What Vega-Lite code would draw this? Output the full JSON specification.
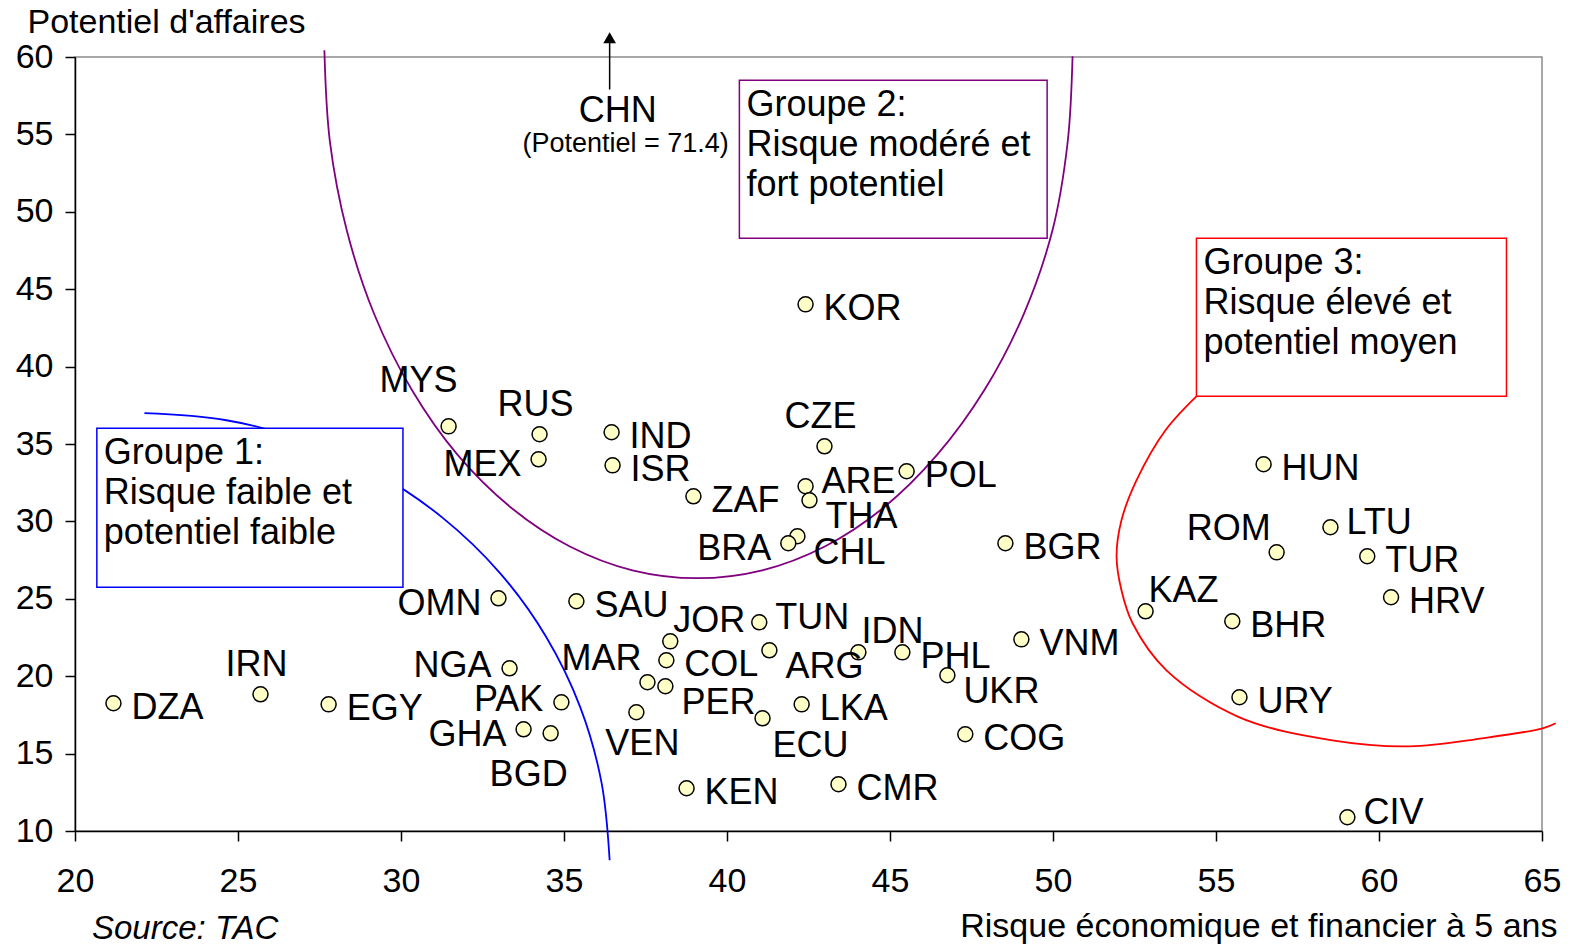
{
  "$schema": "https://vega.github.io/schema/vega-lite/v6.json",
  "width": 1467,
  "height": 774,
  "autosize": {"type": "none"},
  "padding": {"left": 75, "top": 57, "right": 29, "bottom": 114},
  "background": "white",
  "config": {
    "font": "Liberation Sans",
    "view": {"stroke": "#8c8c8c", "strokeWidth": 1.5},
    "axis": {
      "grid": false, "domainColor": "black", "tickColor": "black",
      "labelColor": "black", "titleColor": "black",
      "labelFont": "Liberation Sans", "titleFont": "Liberation Sans",
      "labelFontSize": 34, "titleFontSize": 34, "titleFontWeight": "normal",
      "tickSize": 10, "domainWidth": 1.5, "tickWidth": 1.5
    },
    "text": {"font": "Liberation Sans", "fontSize": 36, "color": "black"}
  },
  "title": {
    "text": "Source: TAC", "orient": "bottom", "anchor": "start", "frame": "group",
    "offset": -30, "dx": 17, "fontSize": 33, "fontStyle": "italic",
    "fontWeight": "normal", "color": "black", "font": "Liberation Sans"
  },
  "datasets": {
    "pays": [
      {"pays": "DZA", "risque": 21.18, "potentiel": 18.25, "pos": "r"},
      {"pays": "IRN", "risque": 25.69, "potentiel": 18.83, "pos": "t"},
      {"pays": "EGY", "risque": 27.78, "potentiel": 18.18, "pos": "r"},
      {"pays": "MYS", "risque": 31.46, "potentiel": 36.14, "pos": "tt"},
      {"pays": "RUS", "risque": 34.25, "potentiel": 35.63, "pos": "t"},
      {"pays": "MEX", "risque": 34.22, "potentiel": 34.01, "pos": "l"},
      {"pays": "OMN", "risque": 32.99, "potentiel": 25.03, "pos": "l"},
      {"pays": "NGA", "risque": 33.33, "potentiel": 20.51, "pos": "lu"},
      {"pays": "PAK", "risque": 34.92, "potentiel": 18.31, "pos": "lu"},
      {"pays": "GHA", "risque": 33.76, "potentiel": 16.57, "pos": "l"},
      {"pays": "BGD", "risque": 34.59, "potentiel": 16.31, "pos": "bl"},
      {"pays": "SAU", "risque": 35.38, "potentiel": 24.84, "pos": "r"},
      {"pays": "IND", "risque": 36.46, "potentiel": 35.76, "pos": "r"},
      {"pays": "ISR", "risque": 36.49, "potentiel": 33.62, "pos": "r"},
      {"pays": "ZAF", "risque": 38.97, "potentiel": 31.62, "pos": "r"},
      {"pays": "JOR", "risque": 38.26, "potentiel": 22.25, "pos": "tr"},
      {"pays": "COL", "risque": 38.14, "potentiel": 21.03, "pos": "r"},
      {"pays": "MAR", "risque": 37.56, "potentiel": 19.61, "pos": "tl"},
      {"pays": "PER", "risque": 38.11, "potentiel": 19.35, "pos": "rd"},
      {"pays": "VEN", "risque": 37.22, "potentiel": 17.67, "pos": "b"},
      {"pays": "TUN", "risque": 40.99, "potentiel": 23.48, "pos": "ru"},
      {"pays": "ARG", "risque": 41.30, "potentiel": 21.67, "pos": "rd"},
      {"pays": "IDN", "risque": 44.03, "potentiel": 21.54, "pos": "tr"},
      {"pays": "PHL", "risque": 45.38, "potentiel": 21.54, "pos": "r"},
      {"pays": "VNM", "risque": 49.03, "potentiel": 22.38, "pos": "r"},
      {"pays": "UKR", "risque": 46.76, "potentiel": 20.06, "pos": "rd"},
      {"pays": "COG", "risque": 47.31, "potentiel": 16.25, "pos": "r"},
      {"pays": "LKA", "risque": 42.29, "potentiel": 18.18, "pos": "r"},
      {"pays": "ECU", "risque": 41.09, "potentiel": 17.28, "pos": "rb"},
      {"pays": "KEN", "risque": 38.76, "potentiel": 12.76, "pos": "r"},
      {"pays": "CMR", "risque": 43.42, "potentiel": 13.02, "pos": "r"},
      {"pays": "KOR", "risque": 42.41, "potentiel": 44.02, "pos": "r"},
      {"pays": "CZE", "risque": 42.99, "potentiel": 34.85, "pos": "t"},
      {"pays": "ARE", "risque": 42.41, "potentiel": 32.27, "pos": "ru"},
      {"pays": "THA", "risque": 42.53, "potentiel": 31.36, "pos": "rd"},
      {"pays": "POL", "risque": 45.51, "potentiel": 33.24, "pos": "r"},
      {"pays": "CHL", "risque": 42.16, "potentiel": 29.04, "pos": "rd"},
      {"pays": "BRA", "risque": 41.88, "potentiel": 28.59, "pos": "l"},
      {"pays": "BGR", "risque": 48.54, "potentiel": 28.59, "pos": "r"},
      {"pays": "HUN", "risque": 56.46, "potentiel": 33.69, "pos": "r"},
      {"pays": "ROM", "risque": 56.86, "potentiel": 28.00, "pos": "tl"},
      {"pays": "LTU", "risque": 58.51, "potentiel": 29.62, "pos": "ru"},
      {"pays": "TUR", "risque": 59.64, "potentiel": 27.75, "pos": "r"},
      {"pays": "HRV", "risque": 60.37, "potentiel": 25.10, "pos": "r"},
      {"pays": "KAZ", "risque": 52.84, "potentiel": 24.19, "pos": "tr"},
      {"pays": "BHR", "risque": 55.50, "potentiel": 23.55, "pos": "r"},
      {"pays": "URY", "risque": 55.72, "potentiel": 18.64, "pos": "r"},
      {"pays": "CIV", "risque": 59.03, "potentiel": 10.89, "pos": "ru"}
    ],
    "chn": [
      {"pays": "CHN", "risque": 36.4, "potentiel": 71.4, "note": "(Potentiel = 71.4)"}
    ],
    "groupes": [
      {"groupe": "1", "risque": 20.67, "risque_fin": 30.06, "potentiel": 36.01, "potentiel_fin": 25.74, "texte": "Groupe 1:\nRisque faible et\npotentiel faible"},
      {"groupe": "2", "risque": 40.38, "risque_fin": 49.82, "potentiel": 58.49, "potentiel_fin": 48.29, "texte": "Groupe 2:\nRisque modéré et\nfort potentiel"},
      {"groupe": "3", "risque": 54.40, "risque_fin": 63.91, "potentiel": 48.29, "potentiel_fin": 38.08, "texte": "Groupe 3:\nRisque élevé et\npotentiel moyen"}
    ],
    "courbes": [
      {"groupe": "1", "ordre": 1, "risque": 22.13, "potentiel": 36.99},
      {"groupe": "1", "ordre": 2, "risque": 24.60, "potentiel": 36.55},
      {"groupe": "1", "ordre": 3, "risque": 27.00, "potentiel": 35.25},
      {"groupe": "1", "ordre": 4, "risque": 29.25, "potentiel": 33.12},
      {"groupe": "1", "ordre": 5, "risque": 31.28, "potentiel": 30.23},
      {"groupe": "1", "ordre": 6, "risque": 33.03, "potentiel": 26.68},
      {"groupe": "1", "ordre": 7, "risque": 34.45, "potentiel": 22.55},
      {"groupe": "1", "ordre": 8, "risque": 35.50, "potentiel": 17.99},
      {"groupe": "1", "ordre": 9, "risque": 36.15, "potentiel": 13.14},
      {"groupe": "1", "ordre": 10, "risque": 36.40, "potentiel": 8.11},
      {"groupe": "2", "ordre": 1, "risque": 27.65, "potentiel": 60.43},
      {"groupe": "2", "ordre": 2, "risque": 27.82, "potentiel": 54.51},
      {"groupe": "2", "ordre": 3, "risque": 28.34, "potentiel": 48.77},
      {"groupe": "2", "ordre": 4, "risque": 29.18, "potentiel": 43.38},
      {"groupe": "2", "ordre": 5, "risque": 30.33, "potentiel": 38.50},
      {"groupe": "2", "ordre": 6, "risque": 31.73, "potentiel": 34.31},
      {"groupe": "2", "ordre": 7, "risque": 33.37, "potentiel": 30.90},
      {"groupe": "2", "ordre": 8, "risque": 35.18, "potentiel": 28.38},
      {"groupe": "2", "ordre": 9, "risque": 37.10, "potentiel": 26.84},
      {"groupe": "2", "ordre": 10, "risque": 39.09, "potentiel": 26.33},
      {"groupe": "2", "ordre": 11, "risque": 41.08, "potentiel": 26.84},
      {"groupe": "2", "ordre": 12, "risque": 43.00, "potentiel": 28.38},
      {"groupe": "2", "ordre": 13, "risque": 44.81, "potentiel": 30.90},
      {"groupe": "2", "ordre": 14, "risque": 46.45, "potentiel": 34.31},
      {"groupe": "2", "ordre": 15, "risque": 47.90, "potentiel": 38.50},
      {"groupe": "2", "ordre": 16, "risque": 49.10, "potentiel": 43.38},
      {"groupe": "2", "ordre": 17, "risque": 49.98, "potentiel": 48.77},
      {"groupe": "2", "ordre": 18, "risque": 50.45, "potentiel": 54.51},
      {"groupe": "2", "ordre": 19, "risque": 50.60, "potentiel": 60.05},
      {"groupe": "3", "ordre": 1, "risque": 54.40, "potentiel": 38.08},
      {"groupe": "3", "ordre": 2, "risque": 53.45, "potentiel": 35.89},
      {"groupe": "3", "ordre": 3, "risque": 52.56, "potentiel": 32.65},
      {"groupe": "3", "ordre": 4, "risque": 52.10, "potentiel": 30.07},
      {"groupe": "3", "ordre": 5, "risque": 51.95, "potentiel": 27.75},
      {"groupe": "3", "ordre": 6, "risque": 52.10, "potentiel": 25.55},
      {"groupe": "3", "ordre": 7, "risque": 52.44, "potentiel": 23.42},
      {"groupe": "3", "ordre": 8, "risque": 53.48, "potentiel": 20.38},
      {"groupe": "3", "ordre": 9, "risque": 55.72, "potentiel": 17.34},
      {"groupe": "3", "ordre": 10, "risque": 58.57, "potentiel": 15.86},
      {"groupe": "3", "ordre": 11, "risque": 60.93, "potentiel": 15.47},
      {"groupe": "3", "ordre": 12, "risque": 63.17, "potentiel": 15.99},
      {"groupe": "3", "ordre": 13, "risque": 65.02, "potentiel": 16.63},
      {"groupe": "3", "ordre": 14, "risque": 65.42, "potentiel": 16.96}
    ]
  },
  "encoding": {
    "x": {
      "field": "risque", "type": "quantitative",
      "scale": {"domain": [20, 65], "nice": false, "zero": false},
      "axis": {
        "title": "Risque économique et financier à 5 ans",
        "values": [20, 25, 30, 35, 40, 45, 50, 55, 60, 65],
        "labelFlush": false, "labelOverlap": false, "labelPadding": 23,
        "titleAlign": "right", "titleX": 1482, "titleY": 95, "titleBaseline": "middle"
      }
    },
    "y": {
      "field": "potentiel", "type": "quantitative",
      "scale": {"domain": [10, 60], "nice": false, "zero": false},
      "axis": {
        "title": "Potentiel d'affaires",
        "values": [10, 15, 20, 25, 30, 35, 40, 45, 50, 55, 60],
        "labelPadding": 12, "labelOverlap": false,
        "titleAngle": 0, "titleAlign": "left", "titleX": -48, "titleY": -35, "titleBaseline": "middle"
      }
    }
  },
  "layer": [
    {
      "data": {"name": "courbes"},
      "mark": {"type": "line", "strokeWidth": 1.8, "interpolate": "catmull-rom", "clip": false},
      "encoding": {
        "detail": {"field": "groupe"},
        "order": {"field": "ordre", "type": "quantitative"},
        "color": {"field": "groupe", "type": "nominal", "scale": {"domain": ["1", "2", "3"], "range": ["#0000FF", "#800080", "#FF0000"]}, "legend": null}
      }
    },
    {
      "data": {"name": "groupes"},
      "mark": {"type": "rect", "fill": "white", "strokeWidth": 1.5},
      "encoding": {
        "x2": {"field": "risque_fin"},
        "y2": {"field": "potentiel_fin"},
        "stroke": {"field": "groupe", "type": "nominal", "scale": {"domain": ["1", "2", "3"], "range": ["#0000FF", "#800080", "#FF0000"]}, "legend": null}
      }
    },
    {
      "data": {"name": "groupes"},
      "mark": {"type": "text", "align": "left", "baseline": "top", "dx": 7, "dy": 8, "fontSize": 36, "lineHeight": 40, "lineBreak": "\n"},
      "encoding": {"text": {"field": "texte"}}
    },
    {
      "data": {"name": "chn"},
      "mark": {"type": "rule", "color": "black", "strokeWidth": 1.5, "clip": false},
      "encoding": {"y": {"datum": 57.9}, "y2": {"datum": 60.9}}
    },
    {
      "data": {"name": "chn"},
      "mark": {"type": "point", "shape": "triangle-up", "filled": true, "color": "black", "size": 160, "opacity": 1, "clip": false},
      "encoding": {"y": {"datum": 61.25}}
    },
    {
      "data": {"name": "chn"},
      "mark": {"type": "text", "align": "center", "baseline": "middle", "dx": 8, "fontSize": 36},
      "encoding": {"y": {"datum": 56.5}, "text": {"field": "pays"}}
    },
    {
      "data": {"name": "chn"},
      "mark": {"type": "text", "align": "center", "baseline": "middle", "dx": 16, "fontSize": 27},
      "encoding": {"y": {"datum": 54.35}, "text": {"field": "note"}}
    },
    {
      "data": {"name": "pays"},
      "mark": {"type": "circle", "size": 225, "fill": "#FFFFC8", "stroke": "black", "strokeWidth": 1.5, "opacity": 1}
    },
    {
      "data": {"name": "pays"},
      "transform": [{"filter": "datum.pos === 'r'"}],
      "mark": {"type": "text", "align": "left", "baseline": "middle", "dx": 18, "dy": 5},
      "encoding": {"text": {"field": "pays"}}
    },
    {
      "data": {"name": "pays"},
      "transform": [{"filter": "datum.pos === 'ru'"}],
      "mark": {"type": "text", "align": "left", "baseline": "middle", "dx": 16, "dy": -4},
      "encoding": {"text": {"field": "pays"}}
    },
    {
      "data": {"name": "pays"},
      "transform": [{"filter": "datum.pos === 'rd'"}],
      "mark": {"type": "text", "align": "left", "baseline": "middle", "dx": 16, "dy": 17},
      "encoding": {"text": {"field": "pays"}}
    },
    {
      "data": {"name": "pays"},
      "transform": [{"filter": "datum.pos === 'rb'"}],
      "mark": {"type": "text", "align": "left", "baseline": "middle", "dx": 10, "dy": 28},
      "encoding": {"text": {"field": "pays"}}
    },
    {
      "data": {"name": "pays"},
      "transform": [{"filter": "datum.pos === 'l'"}],
      "mark": {"type": "text", "align": "right", "baseline": "middle", "dx": -17, "dy": 6},
      "encoding": {"text": {"field": "pays"}}
    },
    {
      "data": {"name": "pays"},
      "transform": [{"filter": "datum.pos === 'lu'"}],
      "mark": {"type": "text", "align": "right", "baseline": "middle", "dx": -18, "dy": -2},
      "encoding": {"text": {"field": "pays"}}
    },
    {
      "data": {"name": "pays"},
      "transform": [{"filter": "datum.pos === 't'"}],
      "mark": {"type": "text", "align": "center", "baseline": "middle", "dx": -4, "dy": -29},
      "encoding": {"text": {"field": "pays"}}
    },
    {
      "data": {"name": "pays"},
      "transform": [{"filter": "datum.pos === 'tt'"}],
      "mark": {"type": "text", "align": "right", "baseline": "middle", "dx": 9, "dy": -45},
      "encoding": {"text": {"field": "pays"}}
    },
    {
      "data": {"name": "pays"},
      "transform": [{"filter": "datum.pos === 'tr'"}],
      "mark": {"type": "text", "align": "left", "baseline": "middle", "dx": 3, "dy": -20},
      "encoding": {"text": {"field": "pays"}}
    },
    {
      "data": {"name": "pays"},
      "transform": [{"filter": "datum.pos === 'tl'"}],
      "mark": {"type": "text", "align": "right", "baseline": "middle", "dx": -6, "dy": -23},
      "encoding": {"text": {"field": "pays"}}
    },
    {
      "data": {"name": "pays"},
      "transform": [{"filter": "datum.pos === 'b'"}],
      "mark": {"type": "text", "align": "center", "baseline": "middle", "dx": 6, "dy": 32},
      "encoding": {"text": {"field": "pays"}}
    },
    {
      "data": {"name": "pays"},
      "transform": [{"filter": "datum.pos === 'bl'"}],
      "mark": {"type": "text", "align": "right", "baseline": "middle", "dx": 17, "dy": 42},
      "encoding": {"text": {"field": "pays"}}
    }
  ]
}
